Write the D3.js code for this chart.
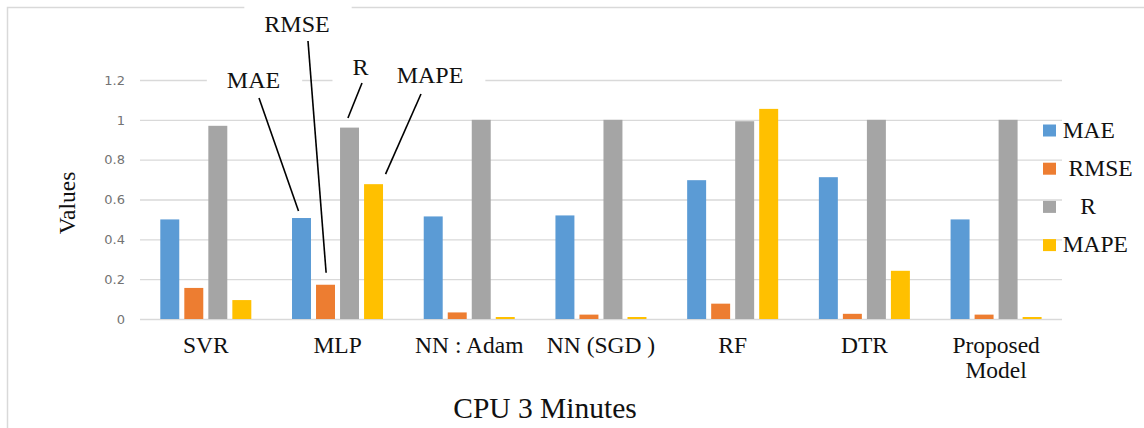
<!DOCTYPE html>
<html>
<head>
<meta charset="utf-8">
<script src="https://cdn.jsdelivr.net/npm/d3@7"></script>
<style>
  body { margin: 0; background: #fff; }
  svg { display: block; }
</style>
</head>
<body>
<svg id="chart" width="1144" height="428"></svg>
<script>
// chart data
const categories = ["SVR", "MLP", "NN : Adam", "NN (SGD )", "RF", "DTR", "Proposed\nModel"];
const seriesNames = ["MAE", "RMSE", "R", "MAPE"];
const legendLabels = ["MAE", " RMSE", "   R", "MAPE"];
const colors = ["#5b9bd5", "#ed7d31", "#a5a5a5", "#ffc000"];
const maeValues  = [0.50, 0.507, 0.515, 0.52, 0.697, 0.712, 0.50];
const rmseValues = [0.156, 0.172, 0.033, 0.022, 0.077, 0.026, 0.022];
const rValues    = [0.97, 0.961, 1.0, 1.0, 0.993, 1.0, 1.0];
const mapeValues = [0.095, 0.677, 0.01, 0.01, 1.055, 0.242, 0.01];
const yTicks = [0, 0.2, 0.4, 0.6, 0.8, 1, 1.2];
const yTitle = "Values";
const chartTitle = "CPU 3 Minutes";

const seriesValues = [maeValues, rmseValues, rValues, mapeValues];

const width = 1144, height = 428;
const margin = { left: 140, right: 82, top: 80, bottom: 109 };
const serif = "'Liberation Serif'";

const svg = d3.select("#chart");

svg.append("rect").attr("width", width).attr("height", height).attr("fill", "#fff");

// chart frame (only top and left edges are visible)
svg.append("path")
   .attr("d", `M7.5,${height} V7.5 H${width}`)
   .attr("fill", "none")
   .attr("stroke", "#d9d9d9")
   .attr("stroke-width", 1.5);

const x0 = d3.scaleBand()
             .domain(categories)
             .range([margin.left, width - margin.right]);

const x1 = d3.scaleBand()
             .domain(seriesNames)
             .range([20.3, x0.bandwidth() - 20.4])
             .paddingInner(0.21);

const y = d3.scaleLinear()
            .domain([0, 1.2])
            .range([height - margin.bottom, margin.top]);

// y axis + gridlines
const yAxis = svg.append("g")
   .attr("transform", `translate(${margin.left},0)`)
   .call(d3.axisLeft(y)
           .tickValues(yTicks)
           .tickSize(-(width - margin.left - margin.right))
           .tickPadding(15)
           .tickFormat(d => String(+d.toFixed(1))));
yAxis.attr("font-family", "'DejaVu Sans'").attr("font-size", 13);
yAxis.select(".domain").remove();
yAxis.selectAll("line").attr("stroke", "#d9d9d9").attr("stroke-width", 1.4);
yAxis.selectAll("text").attr("fill", "#737373");

// bars
const groups = svg.append("g")
  .selectAll("g")
  .data(categories)
  .join("g")
  .attr("transform", d => `translate(${x0(d)},0)`);

groups.selectAll("rect")
  .data((d, i) => seriesNames.map((s, j) => ({ series: s, value: seriesValues[j][i], color: colors[j] })))
  .join("rect")
  .attr("x", d => x1(d.series))
  .attr("width", x1.bandwidth())
  .attr("y", d => y(d.value))
  .attr("height", d => y(0) - y(d.value))
  .attr("fill", d => d.color);

function serifText(sel, size) {
  return sel.append("text")
    .attr("font-family", serif)
    .attr("font-size", size)
    .attr("fill", "#111");
}

// category labels
serifText(svg.append("g").selectAll("g").data(categories).join("g"), 23.5)
  .attr("text-anchor", "middle")
  .selectAll("tspan")
  .data(d => d.split("\n").map(t => ({ t, cx: x0(d) + x0.bandwidth() / 2 })))
  .join("tspan")
  .attr("x", d => d.cx)
  .attr("y", (d, i) => 352.5 + i * 25.2)
  .text(d => d.t);

// y title
serifText(svg, 23.5)
   .attr("transform", "translate(75,203) rotate(-90)")
   .attr("text-anchor", "middle")
   .text(yTitle);

// chart title
serifText(svg, 29.5)
   .attr("x", 545).attr("y", 418)
   .attr("text-anchor", "middle")
   .text(chartTitle);

// legend
const legend = svg.append("g")
  .selectAll("g")
  .data(seriesNames)
  .join("g")
  .attr("transform", (d, i) => `translate(1043,${130.5 + i * 38.2})`);

legend.append("rect")
  .attr("x", 0).attr("y", -6)
  .attr("width", 13).attr("height", 12)
  .attr("fill", (d, i) => colors[i]);

serifText(legend, 23.5)
  .attr("x", 19.7).attr("y", 7)
  .style("white-space", "pre")
  .text((d, i) => legendLabels[i]);

// callouts pointing at the MLP bars
const calloutLayout = [
  { series: "MAE",  lx: 253.5, ly: 88, from: [5.5, 10],  to: [-3, -7] },
  { series: "RMSE", lx: 297,   ly: 32, from: [11, 9],    to: [0.6, -12] },
  { series: "R",    lx: 360.5, ly: 75, from: [1.5, 8],   to: [-1.6, -9.6] },
  { series: "MAPE", lx: 430,   ly: 83, from: [-9, 11],   to: [12, -10] }
];
const mlpIndex = categories.indexOf("MLP");

const callouts = svg.append("g")
  .selectAll("g")
  .data(calloutLayout)
  .join("g");

callouts.append("rect").attr("fill", "#fff");
const labels = serifText(callouts, 24)
  .attr("x", d => d.lx).attr("y", d => d.ly)
  .attr("text-anchor", "middle")
  .text(d => d.series);
labels.each(function(d) {
  const b = this.getBBox();
  d3.select(this.parentNode).select("rect")
    .attr("x", b.x - 20)
    .attr("y", d.ly - 28)
    .attr("width", b.width + 42)
    .attr("height", 36);
});

callouts.append("line")
  .attr("x1", d => d.lx + d.from[0])
  .attr("y1", d => d.ly + d.from[1])
  .attr("x2", d => x0(categories[mlpIndex]) + x1(d.series) + x1.bandwidth() / 2 + d.to[0])
  .attr("y2", d => y(seriesValues[seriesNames.indexOf(d.series)][mlpIndex]) + d.to[1])
  .attr("stroke", "#000")
  .attr("stroke-width", 1.6);
</script>
</body>
</html>
